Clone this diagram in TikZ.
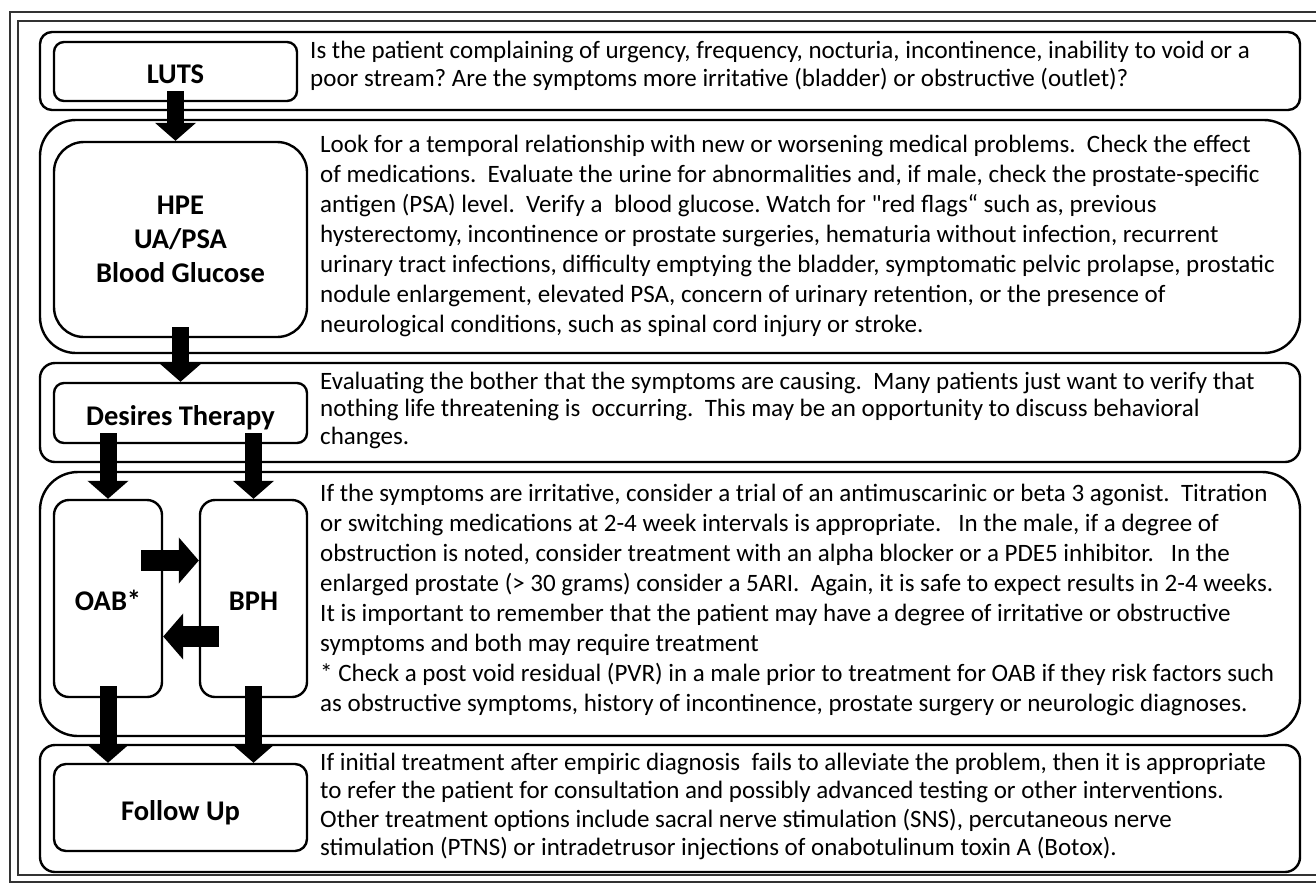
\documentclass[tikz,border=0pt]{standalone}
\usepackage{fontspec}
\setmainfont{Carlito}
\usetikzlibrary{arrows.meta,calc}
\newcommand\tstrut{\rule{0pt}{20pt}}
\newcommand\lowered[2]{\raisebox{-#1}[0pt][0pt]{#2}}
\frenchspacing
\begin{document}
\begin{tikzpicture}[x=1pt,y=-1pt,
  frame/.style={line width=1.4pt, draw=black!80},
  rowbox/.style={draw, line width=2.4pt, inner sep=0pt},
  lbox/.style={draw, line width=2.4pt, inner sep=0pt, align=center,
    font=\bfseries\fontsize{28.5}{34}\selectfont},
  body/.style={anchor=north west, inner sep=0pt, align=left},
  varrow/.style={line width=17pt, -{Triangle[width=40pt,length=18pt]}},
  harrow/.style={line width=21pt, -{Triangle[width=45pt,length=20pt]}},
]
\useasboundingbox (0,0) rectangle (1316,887);
% outer frame (open on the right)
\draw[frame] (1316,12) -- (10,12) -- (10,882) -- (1316,882);
\draw[frame] (1316,21) -- (18,21) -- (18,875) -- (1316,875);

% row boxes
\node[rowbox, rounded corners=12pt, minimum width=1260pt, minimum height=78pt]  (row1) at (670,71) {};
\node[rowbox, rounded corners=36pt, minimum width=1260pt, minimum height=233pt] (row2) at (670,236.5) {};
\node[rowbox, rounded corners=15pt, minimum width=1260pt, minimum height=99pt]  (row3) at (670,412.5) {};
\node[rowbox, rounded corners=38pt, minimum width=1260pt, minimum height=264pt] (row4) at (670,604) {};
\node[rowbox, rounded corners=15pt, minimum width=1260pt, minimum height=127pt] (row5) at (670,808.5) {};

% label boxes
\node[lbox, rounded corners=10pt, minimum width=243pt, minimum height=59pt]  (luts) at (175.5,71.5) {\lowered{11.5pt}{LUTS}};
\node[lbox, rounded corners=30pt, minimum width=253pt, minimum height=195pt] (hpe) at (180.5,239.5) {HPE\\UA/PSA\\Blood Glucose};
\node[lbox, rounded corners=10pt, minimum width=253pt, minimum height=60pt]  (desires) at (180.5,413) {\lowered{12.5pt}{Desires Therapy}};
\node[lbox, rounded corners=15pt, minimum width=108pt, minimum height=197pt] (oab) at (108,598.5) {\lowered{12pt}{OAB*}};
\node[lbox, rounded corners=15pt, minimum width=107pt, minimum height=197pt] (bph) at (253.5,598.5) {\lowered{12pt}{BPH}};
\node[lbox, rounded corners=12pt, minimum width=253pt, minimum height=87pt]  (follow) at (180.5,807.5) {\lowered{13pt}{Follow Up}};

% arrows
\draw[varrow] ($(luts.south)+(0,-11)$) -- (hpe.north -| luts.south);
\draw[varrow] ($(hpe.south)+(0,-11)$) -- (desires.north);
\draw[varrow] ($(desires.south -| oab.north)+(0,-11)$) -- (oab.north);
\draw[varrow] ($(desires.south -| bph.north)+(0,-11)$) -- (bph.north);
\draw[harrow] ($(oab.east)+(-22,-38)$) -- ($(bph.west)+(0,-38)$);
\draw[harrow] ($(bph.west)+(20,38)$) -- ($(oab.east)+(0,38)$);
\draw[varrow] ($(oab.south)+(0,-12)$) -- (follow.north -| oab.south);
\draw[varrow] ($(bph.south)+(0,-12)$) -- (follow.north -| bph.south);

% texts
\node[body, font=\fontsize{25}{28.5}\selectfont] (t1) at (310,38) {\tstrut Is the patient complaining of urgency, frequency, nocturia, incontinence, inability to void or a\\
poor stream? Are the symptoms more irritative (bladder) or obstructive (outlet)?};
\node[body, font=\fontsize{25}{30}\selectfont] (t2) at (320,132) {\tstrut Look for a temporal relationship with new or worsening medical problems.~ Check the effect\\
of medications.~ Evaluate the urine for abnormalities and, if male, check the prostate-specific\\
antigen (PSA) level.~ Verify a~ blood glucose. Watch for \textquotedbl red flags“ such as, previous\\
hysterectomy, incontinence or prostate surgeries, hematuria without infection, recurrent\\
urinary tract infections, difficulty emptying the bladder, symptomatic pelvic prolapse, prostatic\\
nodule enlargement, elevated PSA, concern of urinary retention, or the presence of\\
neurological conditions, such as spinal cord injury or stroke.};
\node[body, font=\fontsize{25}{27.5}\selectfont] (t3) at (320,369) {\tstrut Evaluating the bother that the symptoms are causing.~ Many patients just want to verify that\\
nothing life threatening is~ occurring.~ This may be an opportunity to discuss behavioral\\
changes.};
\node[body, font=\fontsize{25}{30}\selectfont] (t4) at (320,481) {\tstrut If the symptoms are irritative, consider a trial of an antimuscarinic or beta 3 agonist.~ Titration\\
or switching medications at 2-4 week intervals is appropriate.~~ In the male, if a degree of\\
obstruction is noted, consider treatment with an alpha blocker or a PDE5 inhibitor.~~ In the\\
enlarged prostate (> 30 grams) consider a 5ARI.~ Again, it is safe to expect results in 2-4 weeks.\\
It is important to remember that the patient may have a degree of irritative or obstructive\\
symptoms and both may require treatment\\
* Check a post void residual (PVR) in a male prior to treatment for OAB if they risk factors such\\
as obstructive symptoms, history of incontinence, prostate surgery or neurologic diagnoses.};
\node[body, font=\fontsize{25}{28.5}\selectfont] (t5) at (320,750) {\tstrut If initial treatment after empiric diagnosis~ fails to alleviate the problem, then it is appropriate\\
to refer the patient for consultation and possibly advanced testing or other interventions.\\
Other treatment options include sacral nerve stimulation (SNS), percutaneous nerve\\
stimulation (PTNS) or intradetrusor injections of onabotulinum toxin A (Botox).};
\end{tikzpicture}
\end{document}
